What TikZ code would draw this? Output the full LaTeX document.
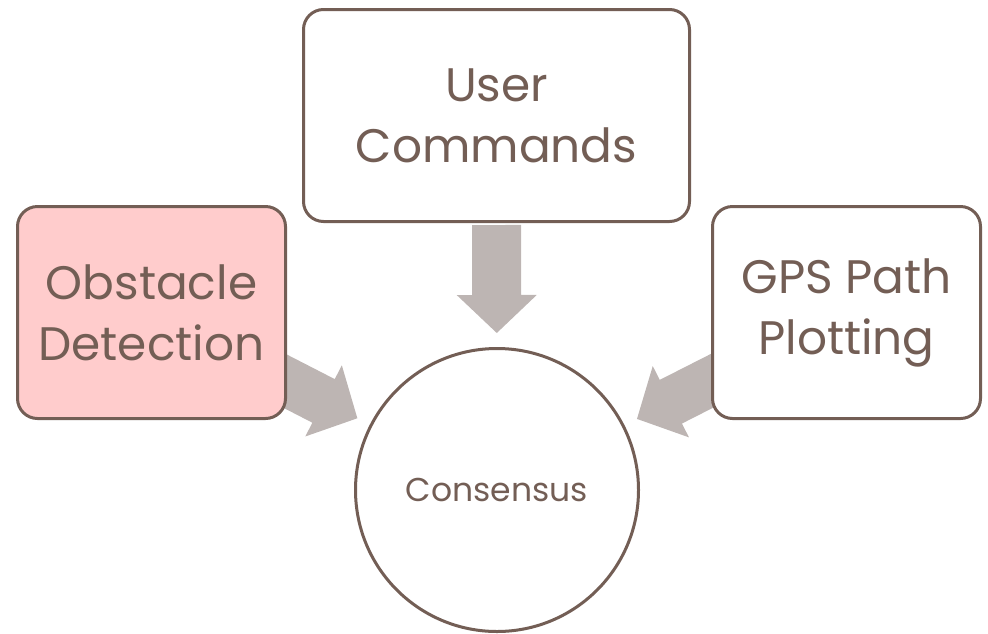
\documentclass[tikz,border=0pt]{standalone}
\usepackage{fontspec}
\setmainfont{Poppins}
\usetikzlibrary{calc,backgrounds}
\definecolor{edge}{HTML}{735E55}
\definecolor{flow}{HTML}{BDB5B3}
\definecolor{alert}{HTML}{FFCCCC}
\tikzset{
  card/.style={draw=edge, line width=3pt, rounded corners=20pt, fill=white,
    align=center, text=edge, inner sep=0pt,
    minimum height=212pt, font=\fontsize{47}{61}\selectfont},
  hub/.style={circle, draw=edge, line width=3pt, fill=white, text=edge,
    minimum size=283pt, inner sep=0pt, font=\fontsize{33}{40}\selectfont},
  flowfill/.style={fill=flow}
}
% block arrow from the source node towards the hub
\newcommand\flowarrow[2]{%
  \coordinate (fa-tip)  at ($(#2)!157pt!(#1)$);
  \coordinate (fa-neck) at ($(#2)!195pt!(#1)$);
  \coordinate (fa-tail) at ($(#2)!265pt!(#1)$);
  \fill[flowfill]
    ($(fa-tail)!24.5pt!90:(fa-tip)$) --
    ($(fa-neck)!24.5pt!90:(fa-tip)$) --
    ($(fa-neck)!40pt!90:(fa-tip)$) --
    (fa-tip) --
    ($(fa-neck)!40pt!-90:(fa-tip)$) --
    ($(fa-neck)!24.5pt!-90:(fa-tip)$) --
    ($(fa-tail)!24.5pt!-90:(fa-tip)$) -- cycle;
}
\begin{document}
\begin{tikzpicture}[x=1pt,y=-1pt]
\useasboundingbox (0,0) rectangle (988,633);

\node[card, minimum width=386pt] (user) at (496.5,115.5) {User\\Commands};
\node[card, minimum width=268pt, fill=alert] (obst) at (151.5,312.5) {Obstacle\\Detection};
\node[card, minimum width=268pt] (gps) at (846.5,312.5) {GPS Path\\Plotting};
\node[hub] (cons) at (497,490) {Consensus};

\begin{scope}[on background layer]
  \flowarrow{user}{cons}
  \flowarrow{obst}{cons}
  \flowarrow{gps}{cons}
\end{scope}
\end{tikzpicture}
\end{document}
